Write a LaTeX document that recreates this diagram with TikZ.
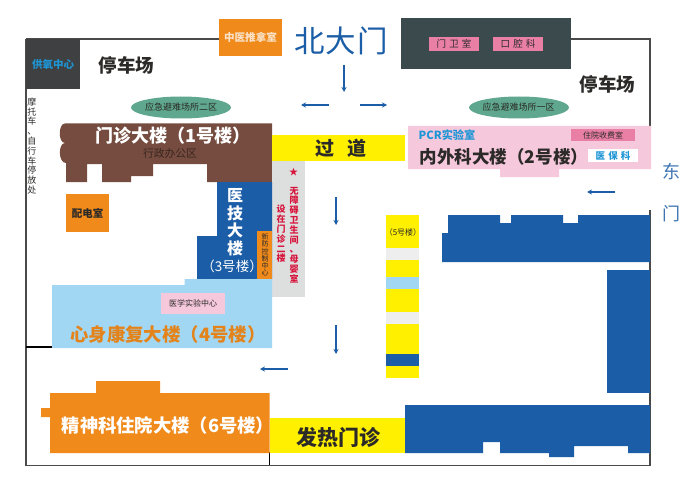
\documentclass[tikz,border=0pt]{standalone}
\usepackage{fontspec}
\setmainfont{Noto Sans CJK SC}
\usepackage{xcolor}
\usetikzlibrary{arrows.meta,positioning,calc}
\definecolor{wallgray}{HTML}{4A4A4A}
\definecolor{darkroom}{HTML}{3F4041}
\definecolor{slate}{HTML}{3B4A4C}
\definecolor{mapblue}{HTML}{1B5DA6}
\definecolor{textblue}{HTML}{1E96D6}
\definecolor{mapbrown}{HTML}{754C3F}
\definecolor{maporange}{HTML}{EF8A1B}
\definecolor{mapyellow}{HTML}{FFF000}
\definecolor{mappink}{HTML}{F6C8DC}
\definecolor{hotpink}{HTML}{EA7FA6}
\definecolor{skyblue}{HTML}{A2D7F4}
\definecolor{mapgreen}{HTML}{5FA88F}
\definecolor{lightgray}{HTML}{DDDEDE}
\definecolor{palegray}{HTML}{EEEEEE}
\definecolor{inkdark}{HTML}{2B2A28}
\definecolor{marksred}{HTML}{D7143C}
\newcommand{\fs}[1]{\fontsize{#1}{#1}\selectfont}
\newcommand{\fsv}[2]{\fontsize{#1}{#2}\selectfont}
\tikzset{
  wall/.style={line width=1.3pt,draw=wallgray},
  flow/.style={-{Stealth[length=5pt,width=5pt]},line width=1.6pt,draw=mapblue},
  lbl/.style={inner sep=0pt,align=center,text=inkdark},
  vlbl/.style={lbl,text width=1em},
}
\begin{document}
\begin{tikzpicture}[x=1pt,y=-1pt]
  \useasboundingbox (0,0) rectangle (700,489);
  % walls
  \draw[wall] (26,39) -- (220,39);
  \draw[wall] (570,39) -- (650,39) -- (650,127);
  \draw[wall] (26,39) -- (26,465.5) -- (650,465.5) -- (650,210);
  \draw[wall,black] (26,347) -- (53,347);
  \draw[wall,black] (269.5,452) -- (269.5,465);
  % north side
  \fill[darkroom] (26,39) rectangle (80,89);
  \node[lbl,text=textblue,font=\fs{10.5}\bfseries] (oxygen) at (53,64) {供氧中心};
  \fill[maporange] (219,19) rectangle (282,56);
  \node[lbl,text=white!75!maporange,font=\fs{10.6}\bfseries] (massage) at (250.5,37.5) {中医推拿室};
  \node[lbl,text=mapblue,font=\fs{30.5}] (northgate) at (341,41) {北\kern1pt 大\kern1pt 门};
  \fill[slate] (401,18) rectangle (571,69);
  \fill[hotpink] (429,37) rectangle (479,51);
  \fill[hotpink] (493,37) rectangle (543,51);
  \node[lbl,font=\fs{9.5}] (guard) at (454,44) {门\,\,卫\,\,室};
  \node[lbl,font=\fs{9.5}] (dental) at (518,44) {口\,\,腔\,\,科};
  \node[lbl,font=\fs{18.5}\bfseries] (parkleft) at (126.5,65) {停车场};
  \node[lbl,font=\fs{18.5}\bfseries] (parkright) at (607.5,84) {停车场};
  \node[vlbl,font=\fsv{9}{9.8}] (bikes) at (32,146) {摩\\托\\车\\、\\自\\行\\车\\停\\放\\处};
  \fill[mapgreen] (181,107.5) ellipse (50 and 11);
  \fill[mapgreen] (519,107.5) ellipse (50 and 11);
  \node[lbl,font=\fs{9}] (shelter2) at (181,107.5) {应急避难场所二区};
  \node[lbl,font=\fs{9}] (shelter1) at (518.5,107.5) {应急避难场所一区};
  % 1 hao lou
  \fill[mapbrown] (65,123.5) .. controls (58,123.5) and (58,143) .. (65,143)
    .. controls (58,143) and (58,163) .. (66,163) -- (66,182) -- (87,182) -- (87,164)
    -- (102,164) -- (102,182) -- (131,182) -- (131,176) -- (153,176) -- (153,164)
    -- (207,164) -- (207,182) -- (272,182) -- (272,123.5) -- cycle;
  \node[lbl,text=white,font=\fs{18}\bfseries] (bldgone) at (173,136) {门诊大楼（1号楼）};
  \node[lbl,text=mapbrown!50!black,font=\fs{10.8}] (office) at (170,153.5) {行政办公区};
  \fill[maporange] (66,194) rectangle (109,232);
  \node[lbl,font=\fs{10.5}\bfseries] (power) at (87.5,213) {配电室};
  % passage
  \fill[mapyellow] (272,135) rectangle (405,161);
  \node[lbl,font=\fs{19}\bfseries] (passage) at (341,148) {过\hspace{14pt}道};
  \fill[lightgray] (272,161) rectangle (305,297);
  \node[lbl,text=marksred,font=\fs{9}] (star) at (293.5,172) {★};
  \node[vlbl,text=marksred,font=\fsv{9}{9.8}\bfseries] (toilet) at (294,235)
    {无\\障\\碍\\卫\\生\\间\\、\\母\\婴\\室};
  \node[vlbl,text=marksred,font=\fsv{9}{9.8}\bfseries] (floor2) at (281,234)
    {设\\在\\门\\诊\\二\\楼};
  % 3 hao lou
  \fill[mapblue] (217,182) -- (272,182) -- (272,279) -- (197,279) -- (197,236) -- (217,236) -- cycle;
  \node[vlbl,text=white,font=\fsv{16}{17.5}\bfseries] (bldgthree) at (232,222) {医\\技\\大\\楼};
  \node[lbl,text=white,font=\fs{13.5}] (bldgthreeno) at (228,266) {（3号楼）\kern-8pt};
  \fill[maporange] (257,231) rectangle (272,279);
  \node[vlbl,font=\fsv{7}{7.3}] (control) at (265,255) {新\\防\\控\\制\\中\\心};
  % 4 hao lou
  \fill[skyblue] (52,285) -- (184.5,285) -- (184.5,279) -- (272,279) -- (272,348) -- (52,348) -- cycle;
  \fill[mappink] (161,293) rectangle (225,314);
  \node[lbl,font=\fs{8}] (medlab) at (193,303.5) {医学实验中心};
  \node[lbl,text=maporange!95!black,font=\fs{18.4}\bfseries] (bldgfour) at (168,334) {心身康复大楼（4号楼）};
  % 6 hao lou
  \fill[maporange] (50,393) -- (96,393) -- (96,381) -- (160,381) -- (160,393) -- (269.5,393)
    -- (269.5,453) -- (50,453) -- (50,417) -- (41,417) -- (41,408) -- (50,408) -- cycle;
  \node[lbl,text=white,font=\fs{18.3}\bfseries] (bldgsix) at (168,426) {精神科住院大楼（6号楼）};
  \fill[mapyellow] (269.5,418) rectangle (405,453);
  \node[lbl,font=\fs{21}\bfseries] (fever) at (338,437) {发热门诊};
  % 2 hao lou
  \fill[mappink] (408,126) -- (651,126) -- (651,169) -- (559,169) -- (559,177) -- (500,177) -- (500,169) -- (408,169) -- cycle;
  \node[lbl,text=textblue,font=\fs{11.2}\bfseries] (pcr) at (447,135.5) {PCR实验室};
  \fill[hotpink] (571,129) rectangle (635,141);
  \node[lbl,font=\fs{8}] (cashier) at (603,135) {住院收费室};
  \fill[white] (588,149) rectangle (638,162);
  \node[lbl,text=textblue,font=\fs{9.5}\bfseries] (insure) at (613,155.5) {医\,\,保\,\,科};
  \node[lbl,font=\fs{17.5}\bfseries] (bldgtwo) at (504,157) {内外科大楼（2号楼）};
  \node[lbl,text=mapblue!85!white,font=\fs{18}] (east1) at (671,172) {东};
  \node[lbl,text=mapblue!85!white,font=\fs{18}] (east2) at (671,214) {门};
  % 5 hao lou
  \fill[mapyellow] (386,215) rectangle (419,378);
  \fill[palegray] (386,248) rectangle (419,260);
  \fill[skyblue] (386,277) rectangle (419,289);
  \fill[palegray] (386,312) rectangle (419,324);
  \fill[mapblue] (386,354) rectangle (419,366);
  \node[lbl,font=\fs{8}] (bldgfive) at (403,232) {（5号楼）};
  % east blue blocks
  \fill[mapblue] (448,215) -- (500,215) -- (500,223) -- (511,223) -- (511,215) -- (563,215)
    -- (563,223) -- (578,223) -- (578,215) -- (650,215) -- (650,262) -- (442,262) -- (442,233) -- (448,233) -- cycle;
  \fill[mapblue] (607,270) rectangle (650,393);
  \fill[mapblue] (405,405) -- (650,405) -- (650,453) -- (628,453) -- (628,446) -- (574,446)
    -- (574,457) -- (549,457) -- (549,453) -- (500,453) -- (500,442) -- (483,442) -- (483,453) -- (405,453) -- cycle;
  % arrows
  \draw[flow] (344,65) -- (344,92);
  \draw[flow] (329,105) -- (301,105);
  \draw[flow] (360,105) -- (387,105);
  \draw[flow] (336,197) -- (336,225);
  \draw[flow] (336,325) -- (336,354);
  \draw[flow] (288,369) -- (260,369);
  \draw[flow] (615,192) -- (587,192);
\end{tikzpicture}
\end{document}
